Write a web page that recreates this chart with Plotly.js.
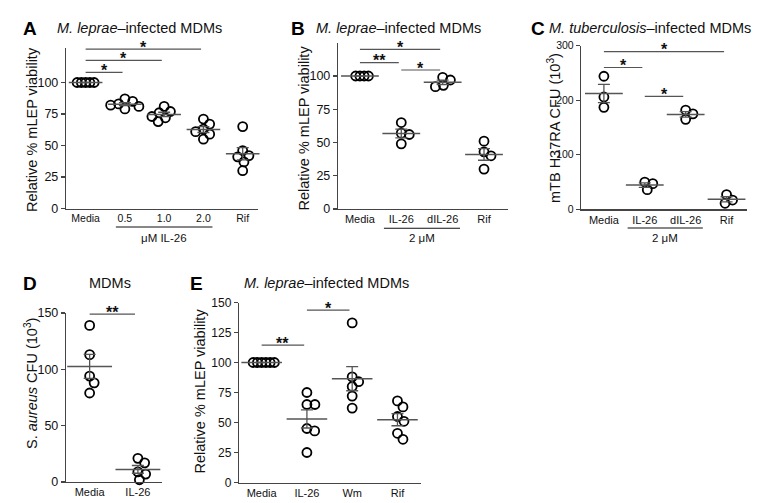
<!DOCTYPE html>
<html>
<head>
<meta charset="utf-8">
<script src="https://cdn.plot.ly/plotly-3.0.1.min.js"></script>
<style>html,body{margin:0;padding:0;background:#fff}#chart{width:761px;height:503px}</style>
</head>
<body>
<div id="chart"></div>
<script>
// ---------------- DATA ----------------
// Panel A: M. leprae-infected MDMs
const aCategories = ['Media', '0.5', '1.0', '2.0', 'Rif'];
const aMedia   = [100, 100, 100, 100, 100];
const aIL26_05 = [87, 85, 83, 82, 81, 79];
const aIL26_10 = [81, 77, 76, 73, 72, 69];
const aIL26_20 = [71, 67, 63, 61, 59, 55];
const aRif     = [65, 46, 42, 41, 37, 30];
const aYTicks  = [0, 25, 50, 75, 100];
const aSigFrom = [0, 0, 0];
const aSigTo   = [1, 2, 3];
const aSigY    = [108, 117.5, 126.5];
const aSigText = ['*', '*', '*'];

// Panel B: M. leprae-infected MDMs
const bCategories = ['Media', 'IL-26', 'dIL-26', 'Rif'];
const bMedia  = [100, 100, 100, 100];
const bIL26   = [65, 57, 56, 49];
const bdIL26  = [99, 97, 93, 92];
const bRif    = [51, 43, 40, 30];
const bYTicks = [0, 25, 50, 75, 100];
const bSigFrom = [0, 0, 1];
const bSigTo   = [1, 2, 2];
const bSigY    = [110, 120, 104.5];
const bSigText = ['**', '*', '*'];

// Panel C: M. tuberculosis-infected MDMs
const cCategories = ['Media', 'IL-26', 'dIL-26', 'Rif'];
const cMedia  = [244, 206, 187];
const cIL26   = [50, 47, 36];
const cdIL26  = [182, 175, 165];
const cRif    = [27, 17, 11];
const cYTicks = [0, 100, 200, 300];
const cSigFrom = [0, 0, 1];
const cSigTo   = [3, 1, 2];
const cSigY    = [289, 260, 207];
const cSigText = ['*', '*', '*'];

// Panel D: MDMs, S. aureus
const dCategories = ['Media', 'IL-26'];
const dMedia  = [139, 113, 94, 88, 79];
const dIL26   = [21, 17, 9, 7, 2];
const dYTicks = [0, 50, 100, 150];
const dSigFrom = [0];
const dSigTo   = [1];
const dSigY    = [149];
const dSigText = ['**'];

// Panel E: M. leprae-infected MDMs
const eCategories = ['Media', 'IL-26', 'Wm', 'Rif'];
const eMedia  = [100, 100, 100, 100, 100, 100];
const eIL26   = [75, 65, 65, 45, 43, 25];
const eWm     = [133, 84, 88, 80, 72, 62];
const eRif    = [68, 63, 55, 51, 41, 36];
const eYTicks = [0, 25, 50, 75, 100, 125, 150];
const eSigFrom = [0, 1];
const eSigTo   = [1, 2];
const eSigY    = [114.5, 143.7];
const eSigText = ['**', '*'];

// ---------------- LAYOUT HELPERS ----------------
const W = 761, H = 503;
const fx = p => p / W;
const fy = p => 1 - p / H;
const FONT = 'Liberation Sans, Arial, Helvetica, sans-serif';
const LINE = '#444';
const GRAY = '#555';

const traces = [];
const shapes = [];
const annotations = [];
const layout = {
  width: W, height: H,
  margin: {l: 0, r: 0, t: 0, b: 0},
  paper_bgcolor: '#fff', plot_bgcolor: 'rgba(0,0,0,0)',
  showlegend: false,
  font: {family: FONT, color: '#111'},
  shapes: shapes, annotations: annotations
};

function mean(a) { return a.reduce((s, v) => s + v, 0) / a.length; }
function sem(a) {
  if (a.length < 2) return 0;
  const m = mean(a);
  const v = a.reduce((s, x) => s + (x - m) * (x - m), 0) / (a.length - 1);
  return Math.sqrt(v / a.length);
}

// deterministic beeswarm in pixel space
function swarm(vals, center, pxX, pxY) {
  const allSame = vals.every(v => v === vals[0]);
  const dist = allSame ? 4.2 : 8;
  const order = vals.map((v, i) => i).sort((a, b) => vals[b] - vals[a]);
  const placed = [];
  const xs = new Array(vals.length);
  for (const i of order) {
    const ypx = vals[i] * pxY;
    let chosen = 0;
    for (let k = 0; k < 600; k++) {
      const step = Math.ceil(k / 2) * 0.25 * (k % 2 === 1 ? 1 : -1);
      const ok = placed.every(p => {
        const dx = p.x - step, dy = p.y - ypx;
        return dx * dx + dy * dy >= dist * dist - 1e-6;
      });
      if (ok) { chosen = step; break; }
    }
    placed.push({x: chosen, y: ypx});
    xs[i] = center + chosen / pxX;
  }
  return xs;
}

function addPanel(o) {
  const xn = o.idx === 1 ? 'x' : 'x' + o.idx;
  const yn = o.idx === 1 ? 'y' : 'y' + o.idx;
  const xa = o.idx === 1 ? 'xaxis' : 'xaxis' + o.idx;
  const ya = o.idx === 1 ? 'yaxis' : 'yaxis' + o.idx;
  const pxX = (o.xPix[1] - o.xPix[0]) / (o.xRange[1] - o.xRange[0]);
  const pxY = (o.yPix[0] - o.yPix[1]) / (o.yRange[1] - o.yRange[0]);

  layout[xa] = {
    domain: [fx(o.xPix[0]), fx(o.xPix[1])], range: o.xRange, anchor: yn,
    showline: true, linecolor: LINE, linewidth: 1.2, ticks: '',
    tickvals: o.categories.map((c, i) => i), ticktext: o.categories,
    tickfont: {family: FONT, size: o.xFont, color: '#111'},
    showgrid: false, zeroline: false, fixedrange: true
  };
  layout[ya] = {
    domain: [fy(o.yPix[0]), fy(o.yPix[1])], range: o.yRange, anchor: xn,
    showline: true, linecolor: LINE, linewidth: 1.2,
    ticks: 'outside', ticklen: 4, tickwidth: 1.1, tickcolor: LINE,
    tickvals: o.yTicks, ticktext: o.yTicks.map(String),
    tickfont: {family: FONT, size: o.yFont, color: '#111'},
    showgrid: false, zeroline: false, fixedrange: true
  };

  o.groups.forEach((vals, i) => {
    traces.push({
      type: 'scatter', mode: 'markers', xaxis: xn, yaxis: yn,
      x: swarm(vals, i, pxX, pxY), y: vals, cliponaxis: false, hoverinfo: 'skip',
      marker: {symbol: 'circle', size: 9, color: 'rgba(0,0,0,0)', line: {color: '#000', width: 1.8}}
    });
  });
  o.groups.forEach((vals, i) => {
    traces.push({
      type: 'scatter', mode: 'markers', xaxis: xn, yaxis: yn,
      x: [i], y: [mean(vals)], cliponaxis: false, hoverinfo: 'skip',
      marker: {symbol: 'line-ew', size: o.meanLen, color: GRAY, line: {color: GRAY, width: 1.5}},
      error_y: {type: 'data', array: [sem(vals)], visible: true, color: GRAY, thickness: 1.3, width: 6}
    });
  });

  o.sigFrom.forEach((f, k) => {
    const t = o.sigTo[k];
    shapes.push({type: 'line', xref: xn, yref: yn, x0: f, x1: t - 0.06, y0: o.sigY[k], y1: o.sigY[k],
      line: {color: GRAY, width: 1.2}});
    annotations.push({xref: xn, yref: yn, x: (f + t - 0.06) / 2, y: o.sigY[k], text: '<b>' + o.sigText[k] + '</b>',
      showarrow: false, xanchor: 'center', yanchor: 'middle', yshift: 2,
      font: {family: FONT, size: 16, color: '#111'}});
  });

  if (o.bracket) {
    const b = o.bracket;
    shapes.push({type: 'line', xref: xn, yref: 'paper', x0: b.from - b.pad, x1: b.to + b.pad,
      y0: fy(b.lineY), y1: fy(b.lineY), line: {color: '#111', width: 1.1}});
    annotations.push({xref: xn, yref: 'paper', x: (b.from + b.to) / 2, y: fy(b.textY), text: b.text,
      showarrow: false, xanchor: 'center', yanchor: 'middle', font: {family: FONT, size: 11.5, color: '#111'}});
  }

  // panel letter
  annotations.push({xref: 'paper', yref: 'paper', x: fx(o.letterX), y: fy(o.titleY), text: '<b>' + o.letter + '</b>',
    showarrow: false, xanchor: 'center', yanchor: 'middle', font: {family: FONT, size: 19, color: '#000'}});
  // title
  annotations.push({xref: 'paper', yref: 'paper', x: fx(o.titleX), y: fy(o.titleY), text: o.title,
    showarrow: false, xanchor: o.titleAnchor, yanchor: 'middle', font: {family: FONT, size: 14.5, color: '#111'}});
  // y title
  annotations.push({xref: 'paper', yref: 'paper', x: fx(o.yTitleX), y: fy(o.yTitleY), text: o.yTitle,
    textangle: -90, showarrow: false, xanchor: 'center', yanchor: 'middle',
    font: {family: FONT, size: 14.5, color: '#111'}});
}

const leprae = '<i>M. leprae</i>–infected MDMs';
const yViab = 'Relative % mLEP viability';

addPanel({idx: 1, categories: aCategories, groups: [aMedia, aIL26_05, aIL26_10, aIL26_20, aRif],
  xPix: [66, 258], xRange: [-0.5, 4.39], yPix: [208.5, 47.85], yRange: [0, 127.5], yTicks: aYTicks,
  xFont: 10.5, yFont: 12.5, meanLen: 24,
  sigFrom: aSigFrom, sigTo: aSigTo, sigY: aSigY, sigText: aSigText,
  bracket: {from: 1, to: 3, pad: 0.23, lineY: 227, textY: 238, text: 'μM IL-26'},
  letter: 'A', letterX: 29.5, title: leprae, titleX: 55, titleAnchor: 'left', titleY: 28,
  yTitle: yViab, yTitleX: 32, yTitleY: 130});

addPanel({idx: 2, categories: bCategories, groups: [bMedia, bIL26, bdIL26, bRif],
  xPix: [338, 508], xRange: [-0.53, 3.58], yPix: [209, 42.75], yRange: [0, 125], yTicks: bYTicks,
  xFont: 11, yFont: 12.5, meanLen: 27,
  sigFrom: bSigFrom, sigTo: bSigTo, sigY: bSigY, sigText: bSigText,
  bracket: {from: 1, to: 2, pad: 0.42, lineY: 228.3, textY: 238, text: '2 μM'},
  letter: 'B', letterX: 298, title: leprae, titleX: 314, titleAnchor: 'left', titleY: 28,
  yTitle: yViab, yTitleX: 303.5, yTitleY: 128});

addPanel({idx: 3, categories: cCategories, groups: [cMedia, cIL26, cdIL26, cRif],
  xPix: [581, 747], xRange: [-0.56, 3.5], yPix: [209.3, 45.7], yRange: [0, 300], yTicks: cYTicks,
  xFont: 11, yFont: 10.5, meanLen: 27,
  sigFrom: cSigFrom, sigTo: cSigTo, sigY: cSigY, sigText: cSigText,
  bracket: {from: 1, to: 2, pad: 0.42, lineY: 228, textY: 238, text: '2 μM'},
  letter: 'C', letterX: 537.5, title: '<i>M. tuberculosis</i>–infected MDMs', titleX: 547, titleAnchor: 'left', titleY: 28,
  yTitle: 'mTB H37RA CFU (10<sup>3</sup>)', yTitleX: 554, yTitleY: 128});

addPanel({idx: 4, categories: dCategories, groups: [dMedia, dIL26],
  xPix: [66, 162], xRange: [-0.49, 1.5], yPix: [482, 313], yRange: [0, 150], yTicks: dYTicks,
  xFont: 11, yFont: 12.5, meanLen: 32,
  sigFrom: dSigFrom, sigTo: dSigTo, sigY: dSigY, sigText: dSigText,
  letter: 'D', letterX: 29.5, title: 'MDMs', titleX: 110, titleAnchor: 'center', titleY: 283,
  yTitle: 'S. <i>aureus</i> CFU (10<sup>3</sup>)', yTitleX: 31, yTitleY: 384});

addPanel({idx: 5, categories: eCategories, groups: [eMedia, eIL26, eWm, eRif],
  xPix: [239, 421], xRange: [-0.5, 3.52], yPix: [482.5, 302.5], yRange: [0, 150], yTicks: eYTicks,
  xFont: 11, yFont: 12, meanLen: 29,
  sigFrom: eSigFrom, sigTo: eSigTo, sigY: eSigY, sigText: eSigText,
  letter: 'E', letterX: 196, title: leprae, titleX: 242, titleAnchor: 'left', titleY: 283,
  yTitle: yViab, yTitleX: 199.5, yTitleY: 391});

Plotly.newPlot('chart', traces, layout, {staticPlot: true, displayModeBar: false});
</script>
</body>
</html>
